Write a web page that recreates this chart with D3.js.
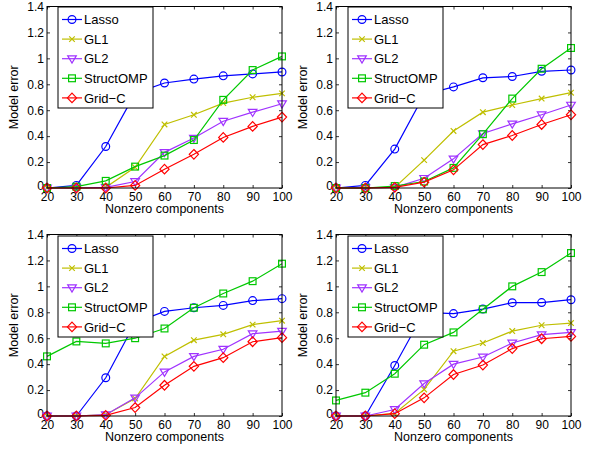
<!DOCTYPE html>
<html>
<head>
<meta charset="utf-8">
<script src="https://cdn.jsdelivr.net/npm/d3@7"></script>
<style>
  body { margin: 0; background: #fff; }
  svg { display: block; font-family: "Liberation Sans", Arial, Helvetica, sans-serif; }
  .tick text { font-size: 12px; fill: #000; }
</style>
</head>
<body>
<div id="chart"></div>
<script>
const xValues = [20, 30, 40, 50, 60, 70, 80, 90, 100]
const yTicks = [0, 0.2, 0.4, 0.6, 0.8, 1, 1.2, 1.4]
const seriesNames = ['Lasso', 'GL1', 'GL2', 'StructOMP', 'Grid\u2212C']

// panel 1 (top left)
const p1Lasso  = [0, 0.02, 0.32, 0.73, 0.81, 0.84, 0.865, 0.88, 0.895]
const p1GL1    = [0, 0, 0.005, 0.16, 0.49, 0.565, 0.655, 0.70, 0.73]
const p1GL2    = [0, 0, 0.005, 0.05, 0.275, 0.385, 0.515, 0.585, 0.65]
const p1Struct = [0, 0.01, 0.055, 0.165, 0.25, 0.37, 0.68, 0.91, 1.015]
const p1Grid   = [0, 0, 0, 0.02, 0.145, 0.26, 0.39, 0.475, 0.547]

// panel 2 (top right)
const p2Lasso  = [0, 0.02, 0.30, 0.72, 0.78, 0.85, 0.86, 0.90, 0.91]
const p2GL1    = [0, 0, 0.005, 0.215, 0.44, 0.585, 0.64, 0.69, 0.735]
const p2GL2    = [0, 0, 0.005, 0.075, 0.225, 0.42, 0.495, 0.565, 0.64]
const p2Struct = [0, 0, 0.015, 0.05, 0.155, 0.415, 0.69, 0.92, 1.08]
const p2Grid   = [0, 0, 0.005, 0.045, 0.14, 0.335, 0.405, 0.49, 0.565]

// panel 3 (bottom left)
const p3Lasso  = [0, 0, 0.295, 0.72, 0.807, 0.835, 0.853, 0.89, 0.905]
const p3GL1    = [0, 0, 0.01, 0.135, 0.46, 0.585, 0.63, 0.705, 0.735]
const p3GL2    = [0, 0, 0.01, 0.14, 0.34, 0.46, 0.515, 0.635, 0.655]
const p3Struct = [0.46, 0.575, 0.56, 0.60, 0.675, 0.835, 0.945, 1.04, 1.175]
const p3Grid   = [0, 0, 0.005, 0.065, 0.237, 0.383, 0.45, 0.573, 0.604]

// panel 4 (bottom right)
const p4Lasso  = [0, 0, 0.39, 0.80, 0.79, 0.825, 0.874, 0.875, 0.897]
const p4GL1    = [0, 0, 0.02, 0.205, 0.50, 0.563, 0.655, 0.70, 0.717]
const p4GL2    = [0, 0, 0.05, 0.25, 0.40, 0.455, 0.563, 0.627, 0.645]
const p4Struct = [0.12, 0.18, 0.326, 0.55, 0.645, 0.823, 1.0, 1.11, 1.257]
const p4Grid   = [0, 0, 0.018, 0.14, 0.32, 0.393, 0.52, 0.596, 0.614]

const panels = [
  [p1Lasso, p1GL1, p1GL2, p1Struct, p1Grid],
  [p2Lasso, p2GL1, p2GL2, p2Struct, p2Grid],
  [p3Lasso, p3GL1, p3GL2, p3Struct, p3Grid],
  [p4Lasso, p4GL1, p4GL2, p4Struct, p4Grid]
]

const colors = ['#0000ff', '#bfbf00', '#a033ff', '#00c800', '#ff0000']
const markers = ['circle', 'x', 'triangle', 'square', 'diamond']

const W = 593, H = 449
const pw = 235, ph = 181.5
const origins = [[47, 6.5], [336, 6.5], [47, 234.5], [336, 234.5]]
const legendPos = [[58, 7], [348, 7], [58, 236], [348, 236]]

const svg = d3.select('#chart').append('svg').attr('width', W).attr('height', H)

function drawMarker (sel, type, color) {
  const sw = 1.2
  if (type === 'circle') {
    sel.append('circle').attr('r', 3.9).attr('fill', 'none').attr('stroke', color).attr('stroke-width', sw)
  } else if (type === 'x') {
    sel.append('path').attr('d', 'M-2.8,-2.8L2.8,2.8M-2.8,2.8L2.8,-2.8').attr('stroke', color).attr('stroke-width', sw)
  } else if (type === 'triangle') {
    sel.append('path').attr('d', 'M-4.3,-2.8L4.3,-2.8L0,4.3Z').attr('fill', 'none').attr('stroke', color).attr('stroke-width', sw)
  } else if (type === 'square') {
    sel.append('rect').attr('x', -3.4).attr('y', -3.4).attr('width', 6.8).attr('height', 6.8).attr('fill', 'none').attr('stroke', color).attr('stroke-width', sw)
  } else if (type === 'diamond') {
    sel.append('path').attr('d', 'M0,-4.8L4.6,0L0,4.8L-4.6,0Z').attr('fill', 'none').attr('stroke', color).attr('stroke-width', sw)
  }
}

panels.forEach((series, pi) => {
  const [ox, oy] = origins[pi]
  const x = d3.scaleLinear().domain([20, 100]).range([0, pw])
  const y = d3.scaleLinear().domain([0, 1.4]).range([ph, 0])

  const g = svg.append('g').attr('transform', `translate(${ox},${oy})`)

  // axes with inward ticks (matlab style)
  g.append('g')
    .attr('transform', `translate(0,${ph})`)
    .call(d3.axisBottom(x).tickValues(xValues).tickSize(-3).tickPadding(4).tickFormat(d3.format('d')))
    .call(ax => ax.select('.domain').remove())
  g.append('g')
    .call(d3.axisTop(x).tickValues(xValues).tickSize(-3).tickFormat(''))
    .call(ax => ax.select('.domain').remove())
  g.append('g')
    .call(d3.axisLeft(y).tickValues(yTicks).tickSize(-3).tickPadding(3).tickFormat(d => d === 0 ? '0' : d3.format('.1f')(d).replace(/\.0$/, '')))
    .call(ax => ax.select('.domain').remove())
    .call(ax => ax.selectAll('.tick').filter(d => d === 0).select('text').attr('dy', '0.1em'))
  g.append('g')
    .attr('transform', `translate(${pw},0)`)
    .call(d3.axisRight(y).tickValues(yTicks).tickSize(-3).tickFormat(''))
    .call(ax => ax.select('.domain').remove())
  g.selectAll('.tick line').attr('stroke', '#000').attr('stroke-width', 0.8)

  const line = d3.line().x((d, i) => x(xValues[i])).y(d => y(d))

  series.forEach((vals, si) => {
    g.append('path')
      .datum(vals)
      .attr('fill', 'none')
      .attr('stroke', colors[si])
      .attr('stroke-width', 1.2)
      .attr('d', line)
    const pts = g.selectAll(null)
      .data(vals)
      .join('g')
      .attr('transform', (d, i) => `translate(${x(xValues[i])},${y(d)})`)
    drawMarker(pts, markers[si], colors[si])
  })

  g.append('rect')
    .attr('width', pw).attr('height', ph)
    .attr('fill', 'none').attr('stroke', '#000').attr('stroke-width', 1)

  g.append('text')
    .attr('transform', `translate(${-29},${ph / 2}) rotate(-90)`)
    .attr('text-anchor', 'middle')
    .attr('font-size', 12.5)
    .text('Model error')

  g.append('text')
    .attr('x', pw / 2)
    .attr('y', ph + 25)
    .attr('text-anchor', 'middle')
    .attr('font-size', 12.5)
    .text('Nonzero components')

  // legend
  const [lx, ly] = legendPos[pi]
  const lg = svg.append('g').attr('transform', `translate(${lx},${ly})`)
  lg.append('rect')
    .attr('width', 95).attr('height', 101)
    .attr('fill', '#fff').attr('stroke', '#000').attr('stroke-width', 1)
  seriesNames.forEach((name, si) => {
    const ey = 12.5 + si * 19.6
    lg.append('line')
      .attr('x1', 4).attr('x2', 24).attr('y1', ey).attr('y2', ey)
      .attr('stroke', colors[si]).attr('stroke-width', 1.2)
    drawMarker(lg.append('g').attr('transform', `translate(14,${ey})`), markers[si], colors[si])
    lg.append('text')
      .attr('x', 26).attr('y', ey).attr('dy', '0.36em')
      .attr('font-size', 13)
      .text(name)
  })
})
</script>
</body>
</html>
